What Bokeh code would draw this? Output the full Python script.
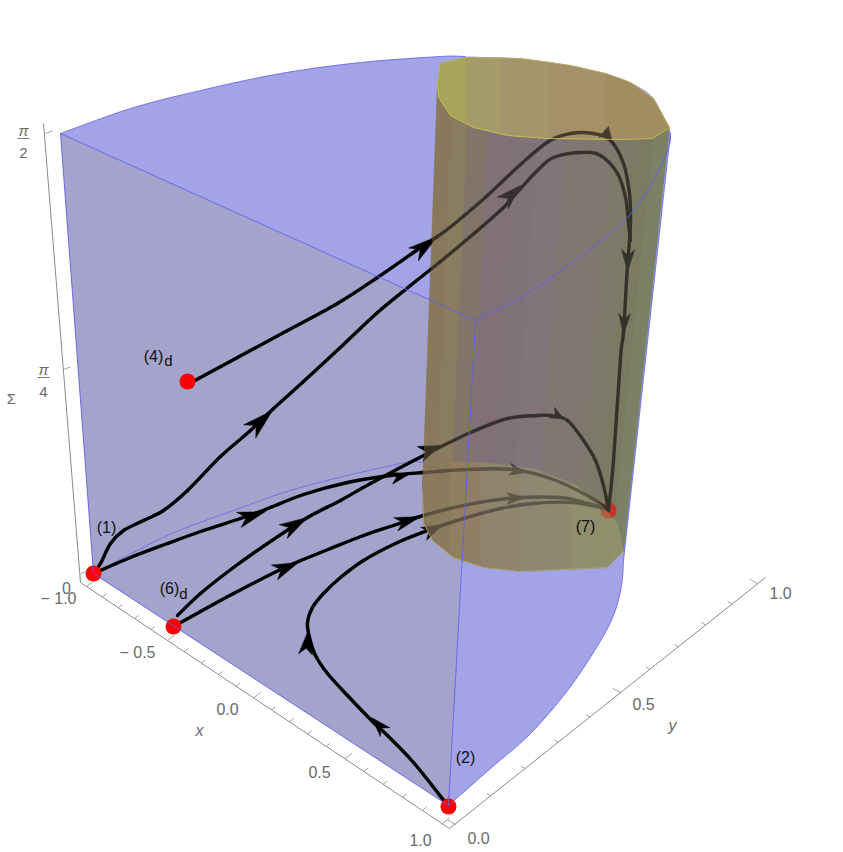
import numpy as np
from bokeh.plotting import figure
from bokeh.models import Range1d
from bokeh.core.properties import value
from bokeh.embed import file_html
from bokeh.resources import INLINE

# ---- trajectories (picture pixels) ----
curve_4d_x = [187,237,287,337,377,413,437,453,487,520,548,570,593,610,623,629,630,628,626,623,620,613,608]
curve_4d_y = [384,357,330,303,277,252,236,224,195,164,141,133,133,140,163,193,223,253,280,332,357,460,510]
curve_1_x = [93,100,110,123,143,163,187,220,250,272,303,343,377,410,440,470,502,520,537,553,580,600,617,625,628,630]
curve_1_y = [573,563,543,530,520,510,490,456,430,409,381,344,312,285,261,236,208,188,170,157,152,155,173,197,223,240]
curve_c_x = [93,130,167,203,240,265,303,347,390,423,467,513,550,583,608]
curve_c_y = [573,557,543,530,518,509,494,482,475,472,469,469,478,493,509]
curve_d_x = [177,200,233,267,307,340,370,427,470,507,537,550,567,583,595,603,608]
curve_d_y = [615,593,567,543,517,500,483,453,432,418,415,415,420,440,460,485,509]
curve_e_x = [173,200,233,280,298,330,363,393,423,463,507,560,587,608]
curve_e_y = [626,611,593,569,561,548,535,525,515,505,498,497,503,509]
curve_f_x = [448,413,387,373,347,327,315,309,307,312,323,340,363,397,427,463,500,533,573,608]
curve_f_y = [806,762,735,722,695,673,655,637,622,607,593,577,560,542,530,518,508,503,502,509]
curves_x = [curve_4d_x, curve_1_x, curve_c_x, curve_d_x, curve_e_x, curve_f_x]
curves_y = [curve_4d_y, curve_1_y, curve_c_y, curve_d_y, curve_e_y, curve_f_y]

# arrowheads: tip, direction, length, half width
arrow_x  = [437,608,627,623,272,520,265,410,525,307,440,563,298,420,525,371,307,443]
arrow_y  = [236,126,271,334,410,185,511,473,472,517,445,418,562,516,497,717,632,524]
arrow_ux = [.80,.25,-.03,-.05,.74,.71,.95,.97,.97,.86,.92,.80,.92,.95,1.0,-.68,.09,.90]
arrow_uy = [-.60,-1.0,1.0,1.0,-.68,-.70,-.30,-.24,.20,-.50,-.38,.40,-.38,-.30,-.05,-.73,-1.0,-.42]
arrow_len = [30,13,22,21,31,25,28,20,16,28,22,13,26,26,19,20,22,22]
arrow_wid = [8,7,6.5,6,9,8,8,6,6,8,8,6,8,7,6,6.5,7,7]

# fixed points
point_x = [93,173,187,448]
point_y = [573,626,381,806]
point7_x = [608]
point7_y = [510]

# ---- surfaces ----
left_wall_x = [60,475,448,93]
left_wall_y = [133,320,805,573]
top_arc_x = [60,130,200,280,360,440,465,520,570,605,630,653,670]
top_arc_y = [133,108,90,73,62,56,56,58,65,73,82,98,132]
front_top_arc_x = [670,668,653,627,587,527,475]
front_top_arc_y = [132,147,180,217,251,293,320]
right_arc_x = [448,490,530,567,596,613,621,623]
right_arc_y = [805,768,733,690,647,615,585,560]
floor_arc_x = [93,167,233,300,400,423,440]
floor_arc_y = [573,535,510,487,463,462,461]

# cylinder outlines
cap_top_up_x = [437,440,465,520,570,605,630,653,669]
cap_top_up_y = [82,63,57,58,65,73,82,98,127]
cap_top_lo_x = [437,438,450,473,507,548,620,652,669]
cap_top_lo_y = [82,97,115,127,135,138,139,138,127]
cap_bot_up_x = [422,443,497,533,573,600,617,623]
cap_bot_up_y = [470,461,463,468,483,503,523,551]
cap_bot_lo_x = [422,423,432,453,483,520,607,623]
cap_bot_lo_y = [490,523,540,557,567,571,567,551]

# cylinder shading
body_t = [0,.06,.13,.22,.33,.43,.55,.66,.76,.85,.93,1]
body_col = ["#88795c","#8a7c60","#84746a","#817178","#807279","#81757a","#807672","#80786e","#7e7a6a","#7b7a62","#7b8066"]
top_x = [437,465,500,550,605,669]
top_col = ["#aaa45e","#a59b6a","#a4966c","#a5916a","#a28c62"]
bot_x = [422,450,480,520,570,623]
bot_col = ["#8b7a5c","#95835f","#948a6a","#939070","#97976f"]

# ---- axes ----
x_ticks = [round(-1 + .1*i, 1) for i in range(21)]
y_ticks = [round(.1*i, 1) for i in range(11)]
axis_x_ends = ([80,449],[582,828])
axis_y_ends = ([449,765],[828,577])
axis_z_ends = ([80,43],[582,123])
z_tick_x = [80,63,45]
z_tick_y = [573,369,133]

tick_labels = ["0","\u2212 1.0","\u2212 0.5","0.0","0.5","1.0","0.0","0.5","1.0"]
tick_lab_x = [66,58,137,227,319,420,478,643,780]
tick_lab_y = [587,598,652,708,771,839,837,703,592]
axis_names = ["x","y","\u03a3"]
axis_name_x = [199,672,11]
axis_name_y = [730,725,398]
point_labels = ["(1)","(6)","(4)","(2)","(7)"]
point_lab_x = [106,169,153,465,585]
point_lab_y = [527,588,356,757,526]
sub_labels = ["d","d"]
sub_x = [183,168]
sub_y = [593,360]
frac_top = ["\u03c0","\u03c0"]
frac_bot = ["2","4"]
frac_x = [23,43]
frac_top_y = [130,369]
frac_bot_y = [152,391]
frac_rule_y = [138,377]

BLUE_LINE = "#5f5fe8"
GRAY = "#6a6a6a"
FONT = value("Liberation Sans")

p = figure(width=843, height=852, x_range=Range1d(0, 843), y_range=Range1d(852, 0),
           output_backend="svg", toolbar_location=None, min_border=0)
p.axis.visible = False
p.grid.visible = False
p.outline_line_color = None
p.background_fill_color = "white"
p.border_fill_color = "white"


def controls(xs, ys):
    """Cubic control points of a smooth path through the given points."""
    x = np.asarray(xs, float); y = np.asarray(ys, float)
    ex = np.r_[x[0], x, x[-1]]; ey = np.r_[y[0], y, y[-1]]
    c0x = x[:-1] + (ex[2:-1] - ex[:-3]) / 6; c0y = y[:-1] + (ey[2:-1] - ey[:-3]) / 6
    c1x = x[1:] - (ex[3:] - ex[1:-2]) / 6;   c1y = y[1:] - (ey[3:] - ey[1:-2]) / 6
    return c0x, c0y, c1x, c1y


def smooth_outline(xs, ys, n=8):
    """Outline of a surface edge, rounded between its read points."""
    c0x, c0y, c1x, c1y = controls(xs, ys)
    ox, oy = [xs[0]], [ys[0]]
    for i in range(len(xs) - 1):
        for t in np.linspace(0, 1, n + 1)[1:]:
            m = 1 - t
            ox.append(m**3 * xs[i] + 3 * m * m * t * c0x[i] + 3 * m * t * t * c1x[i] + t**3 * xs[i + 1])
            oy.append(m**3 * ys[i] + 3 * m * m * t * c0y[i] + 3 * m * t * t * c1y[i] + t**3 * ys[i + 1])
    return ox, oy


def band(x0b, x1b, xu, yu, xl, yl, x0t=None, x1t=None):
    """Polygon between an upper and a lower outline."""
    x0t = x0b if x0t is None else x0t
    x1t = x1b if x1t is None else x1t
    ux = [x0t] + [v for v in xu if x0t < v < x1t] + [x1t]
    lx = [x0b] + [v for v in xl if x0b < v < x1b] + [x1b]
    uy = np.interp(ux, xu, yu)
    ly = np.interp(lx, xl, yl)
    return ux + lx[::-1], list(uy) + list(ly[::-1])


body_polys = []
for i, c in enumerate(body_col):
    a, b = body_t[i], body_t[i + 1]
    px, py = band(422 + 201 * a, 422 + 201 * b, cap_top_lo_x, cap_top_lo_y, cap_bot_lo_x, cap_bot_lo_y,
                  437 + 232 * a, 437 + 232 * b)
    body_polys.append((px, py, c))
cap_top_polys = []
for i, c in enumerate(top_col):
    px, py = band(top_x[i], top_x[i + 1], cap_top_up_x, cap_top_up_y, cap_top_lo_x, cap_top_lo_y)
    cap_top_polys.append((px, py, c))
cap_bot_polys = []
for i, c in enumerate(bot_col):
    px, py = band(bot_x[i], bot_x[i + 1], cap_bot_up_x, cap_bot_up_y, cap_bot_lo_x, cap_bot_lo_y)
    cap_bot_polys.append((px, py, c))
all_polys = body_polys + cap_top_polys + cap_bot_polys

top_sx, top_sy = smooth_outline(top_arc_x, top_arc_y)
front_sx, front_sy = smooth_outline(front_top_arc_x, front_top_arc_y)
right_sx, right_sy = smooth_outline(right_arc_x, right_arc_y)
floor_sx, floor_sy = smooth_outline(floor_arc_x, floor_arc_y)

# blue solid
p.patch(top_sx + front_sx[1:], top_sy + front_sy[1:], fill_color="#a3a3e8", line_color=None)
p.patch(right_sx + front_sx, right_sy + front_sy, fill_color="#a3a3e8", line_color=None)
p.patch(left_wall_x, left_wall_y, fill_color="#a3a3cc", line_color=None)
p.line(floor_sx, floor_sy, line_color=BLUE_LINE, line_width=0.7)

# cylinder, opaque
for px, py, c in all_polys:
    p.patch(px, py, fill_color=c, line_color=c, line_width=0.6)

# trajectories
p.scatter(point7_x, point7_y, size=16, marker="circle", fill_color="#ff0000", line_color=None)
for cx, cy in zip(curves_x, curves_y):
    c0x, c0y, c1x, c1y = controls(cx, cy)
    p.bezier(cx[:-1], cy[:-1], cx[1:], cy[1:], c0x, c0y, c1x, c1y,
             line_color="black", line_width=3.4, line_cap="round")
head_x, head_y = [], []
for tx, ty, ux, uy, L, w in zip(arrow_x, arrow_y, arrow_ux, arrow_uy, arrow_len, arrow_wid):
    n = np.hypot(ux, uy)
    ux, uy = ux / n, uy / n
    nx, ny = -uy, ux
    head_x.append([tx, tx - L * ux + w * nx, tx - .72 * L * ux, tx - L * ux - w * nx])
    head_y.append([ty, ty - L * uy + w * ny, ty - .72 * L * uy, ty - L * uy - w * ny])
p.patches(head_x, head_y, fill_color="black", line_color="black", line_width=0.5)
p.scatter(point_x, point_y, size=16, marker="circle", fill_color="#ff0000", line_color=None)

# cylinder, translucent skin over the trajectories
for px, py, c in all_polys:
    p.patch(px, py, fill_color=c, fill_alpha=0.42, line_color=None)

# cylinder edge lines
p.line(cap_top_up_x, cap_top_up_y, line_color="#b8b45c", line_width=0.8)
p.line(cap_top_lo_x, cap_top_lo_y, line_color="#c8c44a", line_width=0.9)
p.line(cap_bot_lo_x, cap_bot_lo_y, line_color="#b5aa72", line_width=0.8)

# blue edges
p.line(left_wall_x + [60], left_wall_y + [133], line_color=BLUE_LINE, line_width=0.9)
p.line(top_sx[:49], top_sy[:49], line_color=BLUE_LINE, line_width=0.8)
p.line(front_sx, front_sy, line_color=BLUE_LINE, line_width=0.9)
p.line(right_sx + [670], right_sy + [132], line_color=BLUE_LINE, line_width=0.8)


# axes
def proj(t, a, b, w):
    s = t / (t + w * (1 - t))
    return a + (b - a) * s


for ends in (axis_x_ends, axis_y_ends, axis_z_ends):
    p.line(ends[0], ends[1], line_color="#8a8a8a", line_width=1)

seg_x, seg_y = [], []
for v in x_ticks:
    t = (v + 1) / 2
    x0, y0 = proj(t, 86, 442, 1.13), proj(t, 586, 823, 1.13)
    L = 9 if abs(v * 2 - round(v * 2)) < 1e-6 else 5
    seg_x.append([x0, x0 + .8 * L]); seg_y.append([y0, y0 - .6 * L])
for v in y_ticks:
    x0, y0 = proj(v, 455, 757, .83), proj(v, 824, 583, .83)
    L = 9 if abs(v * 2 - round(v * 2)) < 1e-6 else 5
    seg_x.append([x0, x0 - .85 * L]); seg_y.append([y0, y0 - .5 * L])
for x0, y0 in zip(z_tick_x, z_tick_y):
    seg_x.append([x0, x0 + 7]); seg_y.append([y0, y0 - 2.5])
p.multi_line(seg_x, seg_y, line_color="#8a8a8a", line_width=0.8)


# texts
def txt(x, y, s, color, size, style="normal"):
    p.text(x, y, text=s, text_color=color, text_font=FONT, text_font_size=size, text_font_style=style,
           text_align="center", text_baseline="middle")


txt(tick_lab_x, tick_lab_y, tick_labels, GRAY, "16px")
txt(axis_name_x[:2], axis_name_y[:2], axis_names[:2], GRAY, "16px", "italic")
txt(axis_name_x[2:], axis_name_y[2:], axis_names[2:], GRAY, "15px")
txt(frac_x, frac_top_y, frac_top, GRAY, "15px", "italic")
txt(frac_x, frac_bot_y, frac_bot, GRAY, "15px")
p.multi_line([[x - 6, x + 6] for x in frac_x], [[y, y] for y in frac_rule_y], line_color=GRAY, line_width=0.9)
txt(point_lab_x, point_lab_y, point_labels, "#111111", "16px")
txt(sub_x, sub_y, sub_labels, "#111111", "15px")

open("out.html", "w").write(file_html(p, INLINE))
